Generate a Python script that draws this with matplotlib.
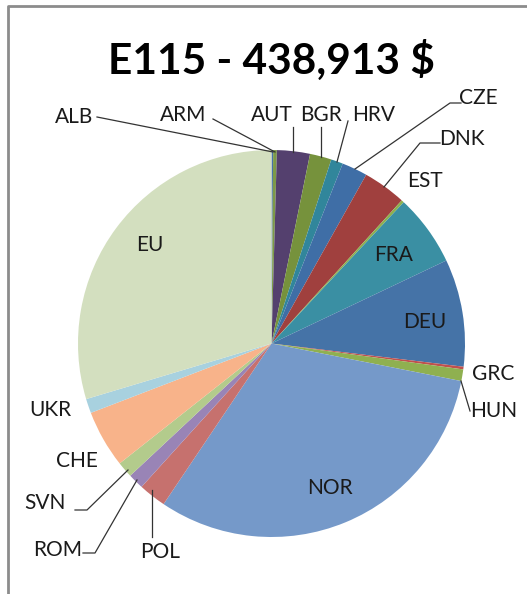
import numpy as np
import matplotlib.pyplot as plt

# --- datos ---
labels = ["ALB", "ARM", "AUT", "BGR", "HRV", "CZE", "DNK", "EST", "FRA", "DEU",
          "GRC", "HUN", "NOR", "POL", "ROM", "SVN", "CHE", "UKR", "EU"]
values = [610, 1341, 12070, 7925, 4389, 9388, 15850, 975, 26213, 39380,
          975, 4267, 137404, 10119, 5730, 5852, 21092, 5243, 130089]
colors = ["#4672a8", "#7d9a48", "#54406e", "#76923c", "#31869b", "#3f6ea6",
          "#a0403e", "#8db04e", "#3a8fa3", "#4573a7", "#c0504d", "#8fb050",
          "#7599c9", "#c6716e", "#9984b6", "#b3cb8c", "#f8b38a", "#a8d1df",
          "#d3dfbf"]
title = "E115 - 438,913 $"

W, H = 527, 594
cx, cy, R = 271.5, H - 343.5, 193.5

fig = plt.figure(figsize=(W / 100, H / 100), dpi=100)
ax = fig.add_axes([0, 0, 1, 1])

ax.pie(values, colors=colors, startangle=90, counterclock=False,
       center=(cx, cy), radius=R, wedgeprops=dict(linewidth=0))
ax.set_xlim(0, W)
ax.set_ylim(0, H)
ax.set_aspect("equal")
ax.axis("off")

# marco gris (solo arriba e izquierda visibles)
ax.plot([8, 8, W], [0, H - 6, H - 6], color="#8c8c8c", lw=2, clip_on=False)

ax.text(271, H - 60, title, ha="center", va="center", fontsize=30.5,
        fontweight="bold", family="Lato")

# posiciones de etiquetas (px desde arriba)
lab_pos = {
    "ALB": (74, 117), "ARM": (183, 115), "AUT": (272, 115), "BGR": (321, 115),
    "HRV": (374, 115), "CZE": (478, 98), "DNK": (462, 139), "EST": (425, 181),
    "FRA": (394, 255), "DEU": (425, 322), "GRC": (493, 374), "HUN": (494, 411),
    "NOR": (330, 488), "POL": (160, 552), "ROM": (58, 550), "SVN": (45, 503),
    "CHE": (77, 461), "UKR": (50, 410), "EU": (150, 245),
}
for name, (x, y) in lab_pos.items():
    ax.text(x, H - y, name, ha="center", va="center", fontsize=15,
            family="Lato", color="#1a1a1a")

# líneas guía
leaders = [
    [(97, 117), (273, 152)],
    [(213, 119), (275, 152)],
    [(293, 127), (293, 152)],
    [(320.5, 127), (320.5, 157)],
    [(348, 121), (337, 162)],
    [(461, 103), (450, 103), (355, 169)],
    [(440, 143), (420, 143), (384, 187)],
    [(461, 381), (470, 411)],
    [(152, 490), (152, 537)],
    [(83, 553), (95, 553), (137, 480)],
    [(75, 510), (87, 510), (128, 470)],
]
for pts in leaders:
    xs = [p[0] for p in pts]
    ys = [H - p[1] for p in pts]
    ax.plot(xs, ys, color="#333333", lw=0.9)

fig.savefig("out.png", dpi=100)
